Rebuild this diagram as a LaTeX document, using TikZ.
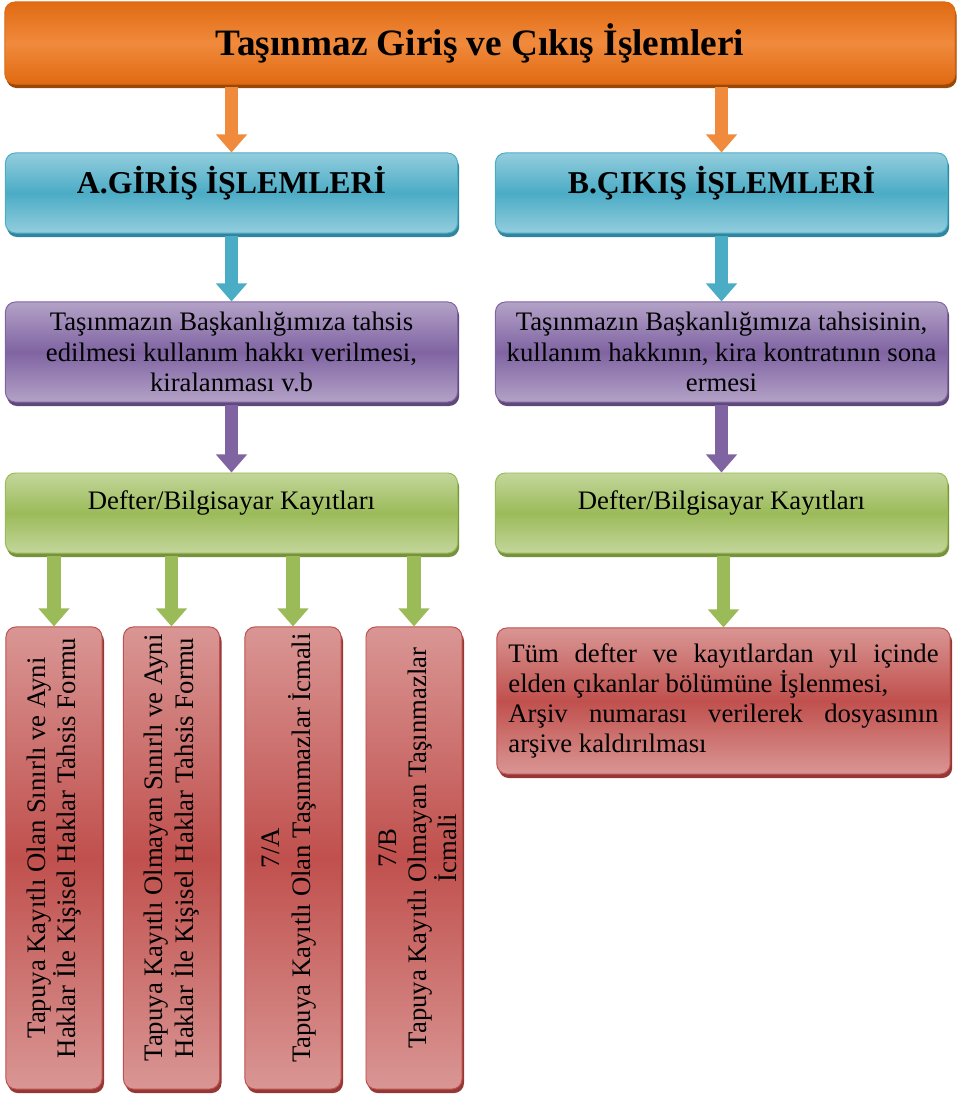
\documentclass[tikz,border=0pt]{standalone}
\usepackage{fontspec}
\setmainfont{Liberation Serif}
\usetikzlibrary{arrows.meta,shadows}
\definecolor{orgM}{HTML}{F08A3C}
\definecolor{orgE}{HTML}{E06A12}
\definecolor{orgD}{HTML}{984807}
\definecolor{bluL}{HTML}{93CDDD}
\definecolor{bluM}{HTML}{4BACC6}
\definecolor{bluD}{HTML}{31859C}
\definecolor{purL}{HTML}{B3A2C7}
\definecolor{purM}{HTML}{8064A2}
\definecolor{purD}{HTML}{5F497A}
\definecolor{grnL}{HTML}{C3D69B}
\definecolor{grnM}{HTML}{9BBB59}
\definecolor{grnD}{HTML}{76923C}
\definecolor{redL}{HTML}{D99694}
\definecolor{redM}{HTML}{C0504D}
\definecolor{redD}{HTML}{953735}
\begin{document}
\begin{tikzpicture}[x=0.025cm,y=-0.025cm,
    every node/.style={font=\fontsize{19}{21.5}\selectfont},
    box/.style={rounded corners=0.25cm,line width=0.7pt,align=center,inner sep=0pt},
    titlebox/.style={box,draw=orgE,top color=orgE,bottom color=orgE,middle color=orgM,
      drop shadow={shadow xshift=0.04cm,shadow yshift=-0.1cm,fill=orgD,opacity=1},
      minimum width=23.75cm,minimum height=2.05cm,font=\fontsize{26.5}{30}\selectfont\bfseries},
    headbox/.style={box,draw=bluM,top color=bluL,bottom color=bluL,middle color=bluM,
      drop shadow={shadow xshift=0.04cm,shadow yshift=-0.1cm,fill=bluD,opacity=1},
      minimum width=11.3cm,minimum height=2cm,text depth=0.65cm,
      font=\fontsize{22.6}{26}\selectfont\bfseries},
    purbox/.style={box,draw=purM,top color=purL,bottom color=purL,middle color=purM,
      drop shadow={shadow xshift=0.04cm,shadow yshift=-0.1cm,fill=purD,opacity=1},
      minimum width=11.3cm,minimum height=2.5cm},
    grnbox/.style={box,draw=grnM,top color=grnL,bottom color=grnL,middle color=grnM,
      drop shadow={shadow xshift=0.04cm,shadow yshift=-0.1cm,fill=grnD,opacity=1},
      minimum width=11.3cm,minimum height=2cm,text depth=0.65cm},
    redbox/.style={box,draw=redM,top color=redL,bottom color=redL,middle color=redM,
      drop shadow={shadow xshift=0.05cm,shadow yshift=-0.1cm,fill=redD,opacity=1}},
    arr/.style={draw=#1,line width=0.33cm,shorten <=0.05cm,
      -{Triangle[width=0.75cm,length=0.45cm]}}]
    \useasboundingbox (0,0) rectangle (963,1097);
    % title
    \node[titlebox] (title) at (480,43) {Taşınmaz Giriş ve Çıkış İşlemleri};
    % two columns
    \node[headbox] (giris) at (231.5,193) {A.GİRİŞ İŞLEMLERİ};
    \node[headbox] (cikis) at (721.5,193) {B.ÇIKIŞ İŞLEMLERİ};
    \node[purbox] (tahsis) at (231.5,352) {Taşınmazın Başkanlığımıza tahsis\\
      edilmesi kullanım hakkı verilmesi,\\ kiralanması v.b};
    \node[purbox] (sona) at (721.5,352) {Taşınmazın Başkanlığımıza tahsisinin,\\
      kullanım hakkının, kira kontratının sona\\ ermesi};
    \node[grnbox] (kayitA) at (231.5,513) {Defter/Bilgisayar Kayıtları};
    \node[grnbox] (kayitB) at (721.5,513) {Defter/Bilgisayar Kayıtları};
    % forms
    \node[redbox,minimum width=2.4cm,minimum height=11.55cm] (formA) at (54,858) {};
    \node[redbox,minimum width=2.4cm,minimum height=11.55cm] (formB) at (171.5,858) {};
    \node[redbox,minimum width=2.4cm,minimum height=11.55cm] (icmalA) at (293,858) {};
    \node[redbox,minimum width=2.4cm,minimum height=11.55cm] (icmalB) at (414,858) {};
    \node[rotate=90,align=center] (formAt) at (54,848)
      {Tapuya Kayıtlı Olan Sınırlı ve Ayni\\ Haklar İle Kişisel Haklar Tahsis Formu};
    \node[rotate=90,align=center] (formBt) at (171.5,848)
      {Tapuya Kayıtlı Olmayan Sınırlı ve Ayni\\ Haklar İle Kişisel Haklar Tahsis Formu};
    \node[rotate=90,align=center] (icmalAt) at (289,848)
      {7/A\\ Tapuya Kayıtlı Olan Taşınmazlar İcmali};
    \node[rotate=90,align=center] (icmalBt) at (418,848)
      {7/B\\ Tapuya Kayıtlı Olmayan Taşınmazlar\\ İcmali};
    \node[redbox,minimum width=11.33cm,minimum height=3.65cm,text width=10.75cm,align=justify]
      (arsiv) at (723.5,701) {Tüm defter ve kayıtlardan yıl içinde\linebreak
      elden çıkanlar bölümüne İşlenmesi,\\ Arşiv numarası verilerek dosyasının\linebreak
      arşive kaldırılması};
    % arrows
    \draw[arr=orgM] (title.south -| giris.north) -- (giris.north);
    \draw[arr=orgM] (title.south -| cikis.north) -- (cikis.north);
    \draw[arr=bluM] (giris.south) -- (tahsis.north);
    \draw[arr=bluM] (cikis.south) -- (sona.north);
    \draw[arr=purM] (tahsis.south) -- (kayitA.north);
    \draw[arr=purM] (sona.south) -- (kayitB.north);
    \foreach \f in {formA,formB,icmalA,icmalB}
      \draw[arr=grnM] (kayitA.south -| \f.north) -- (\f.north);
    \draw[arr=grnM] (kayitB.south -| arsiv.north) -- (arsiv.north);
\end{tikzpicture}
\end{document}
